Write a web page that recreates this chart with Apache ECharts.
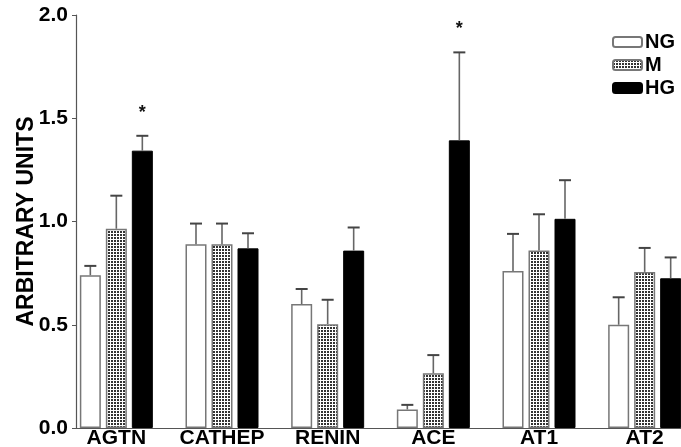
<!DOCTYPE html>
<html>
<head>
<meta charset="utf-8">
<script src="https://cdn.jsdelivr.net/npm/echarts@6/dist/echarts.min.js"></script>
<style>html,body{margin:0;padding:0;background:#fff;}#c{width:681px;height:447px;}</style>
</head>
<body>
<div id="c"></div>
<script>
// ---- data ----
const categories = ['AGTN', 'CATHEP', 'RENIN', 'ACE', 'AT1', 'AT2'];
const seriesNames = ['NG', 'M', 'HG'];
const ngMean = [0.74, 0.89, 0.60, 0.09, 0.76, 0.50];
const ngErrTop = [0.785, 0.99, 0.673, 0.112, 0.94, 0.633];
const mMean = [0.965, 0.89, 0.503, 0.265, 0.86, 0.756];
const mErrTop = [1.125, 0.99, 0.621, 0.353, 1.035, 0.872];
const hgMean = [1.343, 0.87, 0.859, 1.393, 1.013, 0.725];
const hgErrTop = [1.415, 0.943, 0.971, 1.819, 1.20, 0.826];
const hgSig = ['*', '', '', '*', '', ''];
const yTicks = [0, 0.5, 1.0, 1.5, 2.0];

// ---- pattern for M ----
const pc = document.createElement('canvas');
pc.width = 3; pc.height = 3;
const pctx = pc.getContext('2d');
pctx.fillStyle = '#ffffff'; pctx.fillRect(0, 0, 3, 3);
pctx.fillStyle = '#333333'; pctx.fillRect(0, 0, 2, 2);
const mPattern = { image: pc, repeat: 'repeat' };

const BW = 21, GAP = 5, STEP = BW + GAP;
const FONT = '"Liberation Sans", Arial, sans-serif';

function errSeries(means, tops, idx, sig) {
  const data = means.map((v, i) => [i, v, tops[i], sig ? sig[i] : '']);
  return {
    type: 'custom', xAxisIndex: 0, yAxisIndex: 0, z: 5, silent: true,
    data: data,
    renderItem: function (params, api) {
      const base = api.coord([api.value(0), api.value(1)]);
      const top = api.coord([api.value(0), api.value(2)]);
      const x = base[0] + (idx - 1) * STEP;
      const children = [
        { type: 'line', shape: { x1: x, y1: base[1], x2: x, y2: top[1] },
          style: { stroke: '#666', lineWidth: 1.6 } },
        { type: 'line', shape: { x1: x - 6, y1: top[1], x2: x + 6, y2: top[1] },
          style: { stroke: '#444', lineWidth: 2 } }
      ];
      const s = data[params.dataIndex][3];
      if (s) {
        children.push({ type: 'text', style: { text: s, x: x, y: top[1] - 23,
          align: 'center', verticalAlign: 'middle', font: 'bold 18px ' + FONT, fill: '#111' } });
      }
      return { type: 'group', children: children };
    }
  };
}

const chart = echarts.init(document.getElementById('c'));
chart.setOption({
  animation: false,
  backgroundColor: '#fff',
  grid: [
    { left: 63.5, right: -16.5, top: 15, bottom: 19, outerBoundsMode: 'none', containLabel: false },
    { left: 76, right: 0, top: 15, bottom: 19, outerBoundsMode: 'none', containLabel: false }
  ],
  legend: {
    data: seriesNames, orient: 'vertical', left: 607, top: 27,
    itemWidth: 29, itemHeight: 10, itemGap: 3,
    textStyle: { fontFamily: FONT, fontWeight: 'bold', fontSize: 20, color: '#000', padding: [0, 0, 0, -2] }
  },
  xAxis: [
    { type: 'category', gridIndex: 0, data: categories,
      axisLine: { show: false }, axisTick: { show: false },
      axisLabel: { fontFamily: FONT, fontWeight: 'bold', fontSize: 21, color: '#000', margin: 0, interval: 0 } },
    { type: 'category', gridIndex: 1, data: categories,
      axisLine: { show: true, lineStyle: { color: '#555', width: 1.2 } }, axisTick: { show: false },
      axisLabel: { show: false } }
  ],
  yAxis: [
    { type: 'value', gridIndex: 0, min: 0, max: 2, interval: 0.5, show: false },
    { type: 'value', gridIndex: 1, min: 0, max: 2, interval: 0.5,
      splitLine: { show: false },
      axisLine: { show: true, lineStyle: { color: '#555', width: 1.2 } },
      axisTick: { show: true, length: 4, lineStyle: { color: '#555' } },
      axisLabel: { fontFamily: FONT, fontWeight: 'bold', fontSize: 21, color: '#000', margin: 8,
        formatter: v => v.toFixed(1) },
      name: 'ARBITRARY UNITS', nameLocation: 'middle', nameGap: 38, nameRotate: 90, nameMoveOverlap: false,
      nameTextStyle: { fontFamily: FONT, fontWeight: 'bold', fontSize: 23, color: '#000' } }
  ],
  series: [
    { name: 'NG', type: 'bar', xAxisIndex: 0, yAxisIndex: 0, data: ngMean, barWidth: BW, barGap: (GAP / BW * 100) + '%',
      itemStyle: { color: '#fff', borderColor: '#777', borderWidth: 1.5 } },
    { name: 'M', type: 'bar', xAxisIndex: 0, yAxisIndex: 0, data: mMean, barWidth: BW, barGap: (GAP / BW * 100) + '%',
      itemStyle: { color: mPattern, borderColor: '#777', borderWidth: 1.5 } },
    { name: 'HG', type: 'bar', xAxisIndex: 0, yAxisIndex: 0, data: hgMean, barWidth: BW, barGap: (GAP / BW * 100) + '%',
      itemStyle: { color: '#000', borderColor: '#000', borderWidth: 1 } },
    errSeries(ngMean, ngErrTop, 0, null),
    errSeries(mMean, mErrTop, 1, null),
    errSeries(hgMean, hgErrTop, 2, hgSig)
  ]
});
</script>
</body>
</html>
